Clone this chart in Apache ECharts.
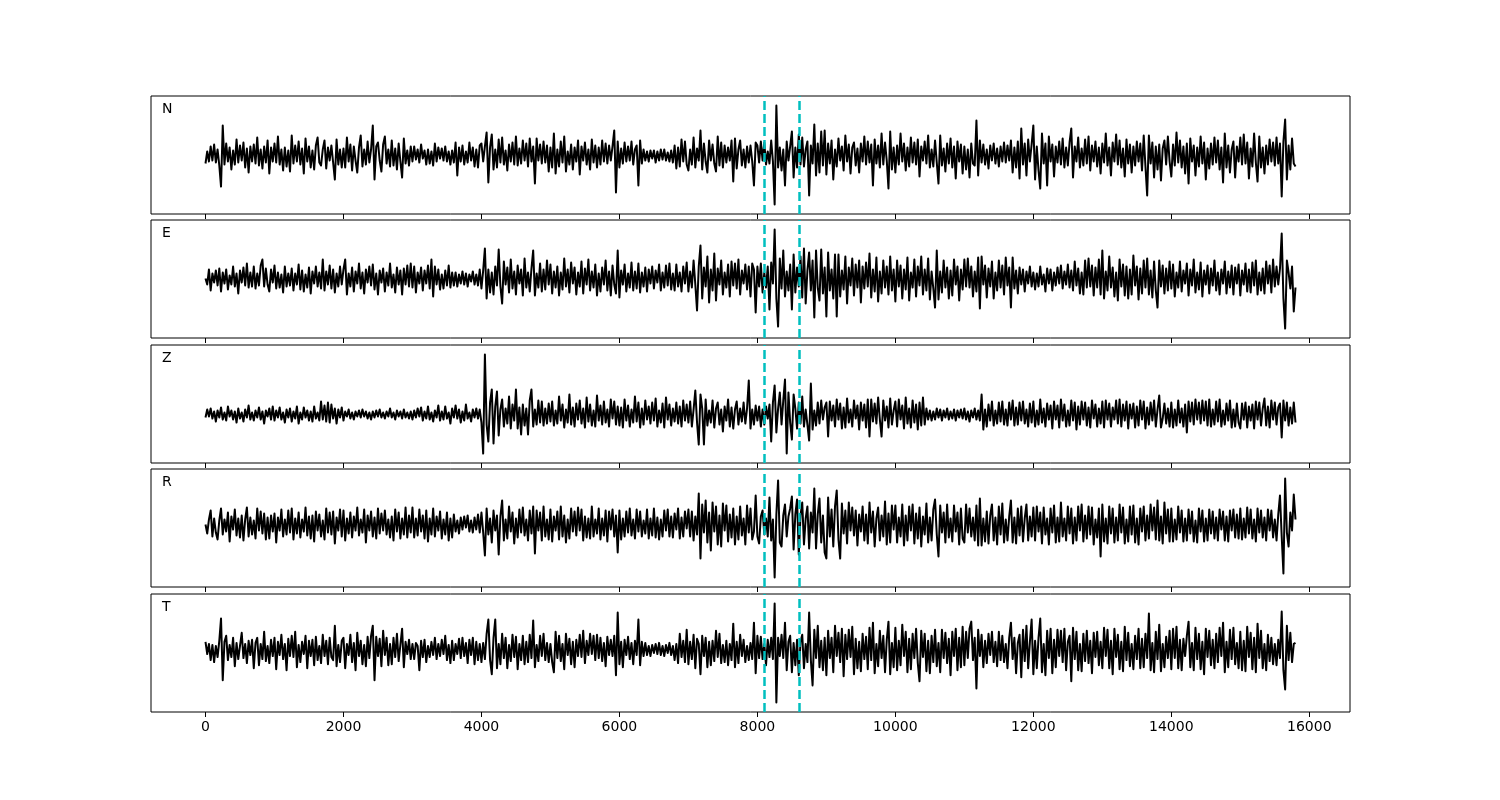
<!DOCTYPE html>
<html><head><meta charset="utf-8">
<script src="https://cdn.jsdelivr.net/npm/echarts@6/dist/echarts.min.js"></script>
<style>html,body{margin:0;padding:0;background:#fff}#c{width:1500px;height:800px}</style>
</head><body><div id="c"></div>
<script>
// one value every 25 samples, samples 0..15800
const sampleStep = 25;
const componentNames = ['N', 'E', 'Z', 'R', 'T'];
const xTickValues = [0, 2000, 4000, 6000, 8000, 10000, 12000, 14000, 16000];
const pickTimes = [8100, 8600];

const traceN = [
-8,4,-6,9,-5,11,-7,6,-10,-31,30,-9,12,-6,8,-14,5,-9,16,-7,10,-5,13,-12,7,-17,9,-6,11,-8,18,-10,6,-13,9,-7,15,-18,8,-6,
12,-7,19,-9,6,-15,8,-11,5,-16,20,-8,10,-6,14,-9,7,-18,17,-6,9,-12,5,-14,10,18,-7,-10,6,15,-13,8,-5,10,-7,-24,16,-9,6,-12,
7,-12,18,-6,11,-15,9,-5,-17,8,20,-11,6,-9,14,-7,6,30,-24,9,13,-5,-16,11,19,-8,6,-11,15,-10,7,-14,12,-6,-22,17,-8,5,-10,9,
-6,9,-4,6,-7,11,-3,5,-9,6,-8,4,-10,12,-6,8,-3,7,-5,9,-6,4,-9,5,-7,13,-20,8,-6,10,-9,4,-7,13,-5,8,-11,6,-12,10,
12,-6,9,23,-27,8,21,-14,6,-12,16,-7,18,-9,5,-15,11,-6,13,-9,19,-10,7,-8,15,-5,12,-11,17,-6,9,-28,17,-5,11,-8,14,-7,10,-16,
8,-12,22,-18,6,-11,14,-7,19,-16,4,-9,11,-14,8,-6,15,-19,9,-5,13,-9,6,-14,16,-7,10,-12,8,-9,15,-6,12,-8,10,-5,9,25,-37,14,
-12,7,-8,13,-6,9,-5,14,-9,6,10,-30,15,-8,6,-5,4,-6,5,-3,5,-7,4,-5,6,-4,6,-5,3,-6,5,-7,10,-13,8,-11,16,-6,14,-9,
-15,6,-9,18,-12,7,-5,25,-14,12,-6,-17,15,-5,11,-8,-16,19,-10,13,-12,10,-7,8,-5,15,-26,17,-13,6,15,-10,6,-12,9,-7,10,-6,-30,13,
10,-7,14,-5,13,-9,4,-8,15,-6,-49,50,-12,8,-15,6,-30,14,-5,9,24,-22,8,-12,21,-9,18,-11,6,14,-40,10,-8,31,-20,12,-17,24,-10,25,
-19,12,-8,15,-24,6,-11,17,-5,9,-15,20,-6,11,-18,8,13,-10,7,-17,12,-6,19,-9,14,-7,11,-30,16,-8,10,-12,22,-9,13,-5,-33,24,-14,8,
-17,10,-9,22,-6,12,-15,8,-11,18,-7,13,-9,16,-21,9,-5,14,-8,20,-12,6,-11,15,-7,-28,20,-10,7,-16,12,-8,17,-12,9,-23,14,-6,11,-18,
9,-14,6,-22,12,-8,-10,35,-20,15,-7,11,-9,6,-13,10,-5,12,-8,7,-11,9,-6,13,-7,10,-5,15,-17,8,-12,14,-23,27,-9,12,-20,16,-6,11,
30,-24,9,-15,-33,22,-8,12,-30,19,-6,11,-21,9,-7,14,-9,17,-12,8,-10,13,27,-22,9,-6,18,-12,7,-10,16,-8,19,-15,10,-6,14,-11,8,-18,
12,-7,22,-10,8,-20,13,-6,21,-9,15,-12,7,-21,16,-8,11,-17,9,-10,14,-6,12,-15,20,-11,-40,20,-8,13,-22,9,-14,11,-25,7,15,-9,19,-6,
-21,11,-10,23,-7,15,-12,9,-18,12,-28,17,-6,10,-20,8,-11,19,-8,13,-24,7,-13,12,-9,18,-7,15,-14,8,-27,22,-12,10,-17,6,14,-22,9,-6,
18,-9,21,-8,13,-23,7,-11,22,-7,-26,19,-12,8,-18,10,-9,16,-6,13,-10,18,-8,12,-41,14,36,-24,10,-14,17,-8,-11
];
const traceE = [
0,-6,9,-12,5,-4,8,-7,10,-13,6,-5,9,-11,3,-6,12,-8,5,-15,8,-4,11,-7,15,-9,6,-8,12,-10,5,-7,13,19,-8,10,-6,-13,9,-4,
13,-10,6,-9,4,-14,12,-8,5,-7,10,-12,5,-6,14,-11,8,-13,4,-9,11,-15,7,-5,12,-8,6,-10,19,-12,7,-6,13,-10,9,-14,5,-8,12,-6,
9,19,-16,5,-8,11,-13,7,-5,15,-10,6,-15,9,-4,12,-7,14,-11,5,-16,8,-4,10,-13,6,-7,15,-9,4,-14,11,-6,8,-16,10,-6,13,-8,15,
-9,12,-14,6,-5,11,-12,8,-5,13,-10,19,-18,12,-6,9,-11,4,-10,8,-7,13,-9,6,-7,6,-8,4,-5,7,-6,5,-8,4,-3,7,-6,4,-7,9,
-10,8,30,-20,9,-14,6,-16,12,-7,29,-8,-25,17,-6,11,-14,19,-10,7,-16,13,-5,9,-17,20,-9,6,-13,10,28,-17,5,-9,15,-13,9,-11,18,-6,
14,-15,7,-9,12,-17,6,-11,20,-8,9,-14,16,-5,11,-16,6,-8,17,-15,10,-6,19,-12,7,-9,14,-17,5,-13,11,-6,18,-12,7,-17,13,-6,-15,28,
-19,8,-6,14,-13,5,-9,16,-12,7,-10,15,-14,6,-8,11,-13,9,-5,12,-10,8,-4,14,-12,6,-9,13,-7,15,-11,5,-12,14,-8,6,-13,12,-5,16,
-13,7,-9,18,-6,-32,12,33,-20,11,-8,22,-24,9,-12,25,-22,10,-6,18,-16,6,-9,14,-18,17,-7,15,-10,19,-16,8,-5,14,-11,12,-18,15,9,-34,
12,-8,15,-14,6,-9,12,-31,16,-5,49,-20,-48,20,-10,28,-18,7,-12,14,-31,24,-14,11,-8,22,-19,30,-25,8,26,-12,18,-39,28,-9,-22,29,-15,11,
-38,26,-12,9,-20,24,-38,24,-18,8,-11,22,-25,11,-7,20,-17,14,-9,18,-24,12,-10,16,-8,25,-19,9,-13,21,-23,7,-15,18,-9,12,-16,22,-12,9,
-23,18,-8,13,-20,9,-11,21,-22,6,-9,19,-18,12,-7,22,-16,9,-12,20,-21,7,-10,-29,28,-21,7,-14,18,-9,11,-20,8,-17,19,-6,12,-22,9,-11,
19,-8,20,-9,12,-18,7,-13,21,-30,22,-6,13,-19,10,-8,17,-20,6,-12,18,-9,13,-16,21,-7,11,-29,21,-10,8,-15,11,-6,9,-13,7,-5,12,-8,
6,-11,5,-8,12,-6,4,-13,10,-5,9,-12,6,-7,11,-5,13,-10,7,-6,14,-9,8,-12,17,-7,10,-15,6,-16,18,-9,20,-8,13,-17,11,-9,19,-16,
28,-20,7,-12,22,-9,11,-18,6,-22,19,-8,14,-17,12,-20,9,-16,23,-7,12,-21,10,-15,18,-9,20,-16,8,-19,17,-12,-29,18,-8,13,-15,10,-12,17,
-10,14,-18,6,-9,17,-13,8,-5,15,-17,9,-7,19,-14,6,-11,16,-18,8,-6,13,-15,10,-7,18,-12,6,-16,9,-5,17,-15,7,-9,13,-16,11,-5,14,
-17,8,-6,15,-13,9,-14,16,-7,18,-16,6,-12,10,-15,17,-5,13,-14,19,-8,12,-6,10,45,-20,-50,18,6,-10,12,-33,-9
];
const traceZ = [
-3,5,-2,6,-4,3,-7,4,-3,7,-5,2,-6,8,-2,4,-5,3,-8,6,-4,2,-7,5,-3,9,-5,2,-6,4,-3,7,-5,3,-9,4,-2,6,-5,8,
-6,4,-3,7,-5,2,-8,5,-3,6,-7,3,-4,8,-9,2,-5,7,-3,4,-6,3,-7,8,-4,2,-6,13,-5,9,-7,12,-8,10,-4,6,-9,5,-3,7,
-6,3,-2,5,-4,2,-5,3,-2,4,-3,5,-2,3,-4,2,-5,3,-3,4,-2,5,-3,2,-4,3,-2,6,-3,2,-5,4,-2,3,-4,5,-3,2,-4,3,
-5,4,-3,6,-2,7,-6,3,-4,8,-5,2,-7,4,-3,9,-6,3,-5,8,-4,2,-9,6,-3,9,-4,5,-8,3,-6,10,-4,2,-7,5,-3,6,-4,5,
-8,-39,60,-10,-27,12,25,-29,8,23,-21,5,15,-12,6,-9,18,-14,10,-6,25,-14,7,-20,10,-11,6,-20,14,25,-12,5,-10,14,-8,13,-11,6,-9,11,
-7,13,-11,4,-9,18,-6,10,-13,5,-8,20,-10,7,-12,11,-5,14,-9,6,-13,17,-7,10,-11,4,-12,19,-6,9,-10,13,-8,5,-12,15,-4,13,-10,8,
-11,7,-13,15,-6,9,-12,5,-8,18,-7,12,-13,6,-10,14,-5,8,-9,12,-6,16,-12,4,-8,11,-13,17,-5,10,-11,6,-7,12,-9,8,-12,14,-6,10,
-8,13,-12,5,24,-8,-30,20,6,-30,15,-11,4,-8,14,-13,6,12,-10,5,-17,8,-6,15,-12,7,-14,5,13,-10,6,-7,12,-9,6,34,-14,5,-10,9,
-6,8,-12,5,-10,8,-4,10,-27,12,29,-18,6,22,-10,14,35,-39,22,-8,-25,20,6,-14,12,-9,18,-12,5,-10,-26,31,-15,4,-11,12,-9,14,-5,7,
12,-22,13,-6,9,-12,15,-5,11,-14,7,-13,16,-8,5,-12,14,-4,9,-15,12,-6,10,-13,15,-22,15,-7,11,-9,17,-5,-22,14,-6,8,-13,16,-10,4,
13,-12,15,-5,9,-14,17,-9,6,-13,14,-8,10,-15,12,-11,17,-10,6,-5,4,-6,3,-5,6,-3,5,-6,4,-3,6,-5,3,-4,5,-6,4,-3,5,-4,
6,-5,3,-7,4,-3,6,-5,4,-6,20,-15,5,-12,10,-6,13,-11,4,-9,12,-7,13,-10,5,-11,12,-5,14,-11,7,-10,12,-6,13,-9,5,-12,11,-8,
13,-12,4,-10,15,-8,6,-12,11,-5,9,-14,13,-5,9,-13,15,-6,10,-12,4,-11,14,-6,12,-15,8,-10,13,-5,12,-11,7,-13,14,-4,10,-12,6,-9,
13,-13,14,-5,11,-12,7,-5,14,-9,15,-12,10,-6,13,-14,10,-4,11,-13,8,-11,14,-5,13,-14,7,-10,12,-6,14,-12,5,19,-13,-4,11,-9,6,-12,
12,-13,5,-11,14,-8,6,-12,10,-18,13,-7,12,-10,15,-5,12,-9,14,-6,13,-11,15,-12,5,-10,13,-7,15,-12,4,-10,11,-6,14,-13,5,-12,11,-8,
-14,11,-5,12,-13,8,-6,10,-14,13,-5,12,-11,6,16,-11,8,-13,14,-5,12,-10,7,11,-23,14,-6,12,-11,7,-9,12,-8
];
const traceR = [
0,-9,5,14,-12,6,-8,-15,4,16,-10,5,-7,12,-17,8,-5,15,-11,6,-13,9,-16,5,17,-12,7,-10,4,-14,16,-6,13,-9,11,-15,7,-14,9,-7,
11,-18,7,-6,15,-12,5,-10,14,-8,16,-15,6,-9,12,-13,5,-7,17,-11,8,-14,9,-17,13,-6,10,-12,4,-15,16,-8,12,-10,13,-19,7,-6,15,-12,
14,-16,6,-9,12,-13,8,-6,17,-11,5,-8,15,-18,9,-6,13,-12,7,-14,16,-9,11,-6,14,-10,5,-13,8,-16,15,-7,12,-14,6,-10,17,-13,9,-8,
17,-13,6,-11,15,-7,9,-14,14,-17,6,-10,16,-12,8,-6,13,-14,5,-10,12,-16,6,-13,10,-7,4,-9,7,-5,8,-3,9,-7,4,-8,7,-5,10,-8,
12,-8,-31,16,-10,6,-18,14,-6,9,-30,8,24,-16,5,-14,18,-7,12,-19,6,-13,15,-8,17,-11,5,-16,14,-9,18,-29,14,-6,12,-16,18,-12,5,-15,
15,-17,8,-6,13,-15,18,-12,9,-18,5,-14,16,-7,13,-11,17,-6,15,-16,8,-13,6,-14,18,-12,5,-9,16,-15,6,-11,14,-17,13,-5,15,-12,9,-28,
14,-15,6,-12,13,-8,16,-11,5,-14,15,-7,13,-12,4,-9,15,-14,6,-11,16,-13,7,-15,5,-12,14,-6,15,-12,8,-13,11,-5,16,-14,7,-12,13,-4,
15,-12,13,-16,8,-10,31,-34,20,-8,24,-18,12,-26,22,-7,18,-20,9,-22,21,-6,19,-17,10,-13,16,-20,8,-15,18,-11,6,-20,19,-8,16,-15,-7,29,
-12,-19,8,14,-10,6,-12,27,-16,5,-53,10,44,-18,-22,9,20,-12,8,16,28,-25,10,25,-30,9,22,-20,6,18,-24,12,-8,36,-24,10,26,-18,9,-28,
-34,27,-12,15,-22,18,34,-15,-34,21,-9,14,-19,22,-6,17,-11,14,-21,10,-7,18,-16,10,-19,22,-8,13,-22,6,17,-16,9,-12,23,-20,11,-18,19,-5,
19,-18,7,-12,20,-21,9,-16,18,-6,20,-19,11,-14,17,-22,8,-10,21,-18,7,-16,15,25,-10,-32,19,-8,12,-18,20,-13,6,-17,19,-7,12,-20,16,-14,
-18,20,-8,16,-12,7,-16,19,-21,26,-21,6,-17,13,-19,9,20,-16,7,-20,18,-10,21,-18,5,-16,8,24,-18,7,-19,16,-11,18,-17,6,20,-16,8,-12,
17,-16,18,-7,12,-19,17,-10,6,-20,16,-8,19,-18,7,-17,22,-12,6,-16,18,-9,16,-19,7,-16,18,-6,20,-17,9,-14,18,-10,17,-20,5,-13,16,-32,
20,-17,6,-19,18,-9,16,-18,7,-16,20,-8,17,-19,5,-17,18,-10,19,-18,6,-20,16,-7,18,-16,9,-14,20,-6,17,-15,24,-16,8,-19,22,-9,15,-17,
16,-17,5,-15,18,-8,14,-17,6,-16,15,-9,13,-17,4,-18,16,-7,14,-17,6,-16,15,-9,13,-14,7,-16,15,-5,13,-16,8,-17,14,-6,15,-13,10,-14,
16,-15,6,-13,17,-9,15,-14,5,-17,16,-8,14,-13,7,-16,15,-6,14,-13,5,-16,10,29,-12,-49,46,-8,-22,12,-6,30,5
];
const traceT = [
8,-4,6,-10,5,-12,4,-7,9,31,-30,8,14,-10,5,-7,12,-16,7,-9,4,17,-8,6,-13,9,-5,10,-18,7,12,-15,6,-9,18,-11,4,-13,10,-6,
12,-19,8,-5,15,-9,6,-20,11,-6,14,-7,18,-17,5,-12,8,-4,14,-18,9,-6,10,-15,13,-10,4,-13,15,-6,9,-14,12,-7,-10,24,-16,5,-12,9,
12,-18,6,-5,15,-12,7,-20,17,-6,9,-14,5,-16,13,-8,14,24,-30,13,-6,11,-16,19,-5,12,-15,6,-14,12,-7,16,-11,5,21,-17,8,-4,10,-9,
6,-9,7,4,-20,9,-7,10,-12,4,-7,8,-5,12,-9,6,-6,10,-4,14,-10,5,-13,9,-10,6,-4,11,-8,12,-6,7,-13,10,-5,12,-14,8,-10,6,
-12,7,-9,16,30,-10,-24,12,30,-18,6,-14,16,-8,12,-18,5,-11,15,-7,13,-19,6,-10,14,-14,8,-12,15,-8,29,-17,5,-11,14,-6,16,-10,7,-12,
6,-12,-22,18,-8,14,-11,6,-19,16,-5,11,-14,8,-17,10,-6,15,-7,19,-13,9,-5,16,-4,14,-10,15,-8,12,-11,7,-16,13,-5,10,-6,14,-25,37,
-14,8,-17,10,-5,13,-9,7,-14,9,-5,30,-15,8,-6,7,-5,4,-6,5,-3,6,-4,7,-5,4,-6,5,-3,7,-5,4,-10,6,-13,16,-7,9,-12,20,
-14,8,-9,15,-18,11,6,-24,14,-6,12,-17,8,-15,9,-11,19,-7,16,-13,5,-12,9,-15,6,-10,26,-17,8,-13,15,-6,10,-12,4,-10,7,-9,27,-23,
14,-8,13,-9,6,-15,10,-7,12,-9,46,-52,12,-6,15,-8,27,-20,8,14,-22,7,-15,10,-25,8,15,-18,6,-12,37,-10,-35,20,-8,24,-17,9,-20,12,
-25,19,-8,12,-22,24,-6,17,-12,21,-26,15,-9,20,-7,23,-24,11,-18,8,-21,16,-9,13,-19,22,-10,27,-23,6,-16,19,-8,14,-22,10,28,-24,7,-17,
22,-20,9,-15,25,-6,18,-22,11,-19,16,-8,21,-13,-31,19,-7,16,-21,9,-23,14,-12,20,-16,7,-22,20,-8,17,-13,11,-25,18,-6,21,-20,12,-17,23,
-15,18,-8,21,28,-10,12,-38,20,-6,15,-17,9,-13,16,-5,18,-12,8,-16,18,-10,14,-12,6,-18,12,27,-9,12,-23,7,15,-27,20,-11,24,-18,8,30,
-24,9,-18,12,31,-22,6,-25,19,-8,21,-23,10,-17,20,-6,19,-12,21,-20,8,14,-31,22,-9,18,-20,6,-21,16,-11,19,-13,9,-23,17,-7,18,-15,8,
-18,22,-6,20,-18,9,-24,21,-7,15,-19,8,-21,23,-10,17,-16,6,-19,14,-9,21,-18,11,-17,16,-8,36,-20,7,-22,18,-9,25,-21,6,-17,13,-8,19,
-19,21,-8,23,-18,10,-20,11,-6,14,28,-17,7,-20,22,-9,16,-19,8,-24,21,-7,19,-15,10,-18,16,-12,22,-6,27,-22,8,-17,20,-9,22,-14,7,-18,
18,-20,9,-21,23,-7,17,-19,12,-22,26,-8,19,-18,6,-20,15,-11,12,-14,6,-15,10,-8,38,-20,-39,24,-10,17,-12,6,7
];

const traces = [traceN, traceE, traceZ, traceR, traceT];
const chart = echarts.init(document.getElementById('c'), null, {renderer: 'canvas'});
const gridTops = [96, 220, 345, 469, 594];
const grids = [], xAxes = [], yAxes = [], series = [], graphics = [];
const FONT = '"DejaVu Sans", sans-serif';

traces.forEach((tr, k) => {
  grids.push({left: 151, top: gridTops[k], width: 1199, height: 118, show: true,
    borderColor: '#000', borderWidth: 1, backgroundColor: 'transparent', containLabel: false});
  xAxes.push({type: 'value', gridIndex: k, min: -790, max: 16590, position: 'bottom',
    splitLine: {show: false}, axisLine: {show: false, onZero: false},
    axisTick: {show: true, inside: false, length: 5, customValues: xTickValues, lineStyle: {color: '#000', width: 1}},
    axisLabel: {show: k === traces.length - 1, customValues: xTickValues, margin: 8, color: '#000',
      fontFamily: FONT, fontSize: 14, formatter: v => String(v)}});
  const dmin = Math.min(...tr), dmax = Math.max(...tr), r = dmax - dmin, m = 0.095 * r;
  yAxes.push({type: 'value', gridIndex: k, min: dmin - m, max: dmax + m, show: false,
    splitLine: {show: false}, axisLine: {show: false, onZero: false}, axisTick: {show: false}, axisLabel: {show: false}});
  series.push({type: 'line', xAxisIndex: k, yAxisIndex: k,
    data: tr.map((v, i) => [i * sampleStep, v]),
    showSymbol: false, symbol: 'none', silent: true, animation: false,
    lineStyle: {color: '#000', width: 2, join: 'round'}, itemStyle: {color: '#000'},
    markLine: {symbol: ['none', 'none'], silent: true, animation: false, label: {show: false},
      lineStyle: {color: '#00BFBF', width: 2.5, type: [9, 4]},
      data: pickTimes.map(t => ({xAxis: t}))}
  });
  graphics.push({type: 'text', left: 162, top: gridTops[k] + 6,
    style: {text: componentNames[k], font: '14px ' + FONT, fill: '#000'}});
});

chart.setOption({
  animation: false,
  backgroundColor: '#fff',
  grid: grids, xAxis: xAxes, yAxis: yAxes, series: series, graphic: graphics
});
</script>
</body></html>
